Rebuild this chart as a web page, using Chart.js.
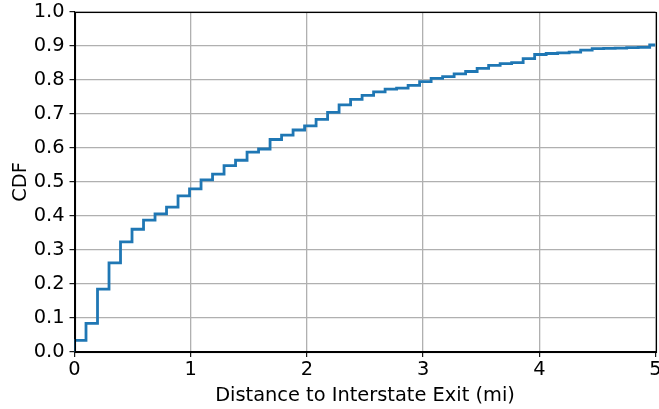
<!DOCTYPE html>
<html>
<head>
<meta charset="utf-8">
<script src="https://cdn.jsdelivr.net/npm/chart.js@4.4.1/dist/chart.umd.min.js"></script>
<style>
  html, body { margin: 0; padding: 0; background: #fff; }
  #wrap { width: 659px; height: 409px; position: relative; }
</style>
</head>
<body>
<div id="wrap"><canvas id="c" width="659" height="409"></canvas></div>
<script>
// Step positions (miles) and CDF values
const stepX = [0, 0.099, 0.198, 0.297, 0.396, 0.495, 0.594, 0.693, 0.792, 0.891,
  0.99, 1.089, 1.188, 1.287, 1.386, 1.485, 1.584, 1.683, 1.782, 1.881,
  1.98, 2.079, 2.178, 2.277, 2.376, 2.475, 2.574, 2.673, 2.772, 2.871,
  2.97, 3.069, 3.168, 3.267, 3.366, 3.465, 3.564, 3.663, 3.762, 3.861,
  3.96, 4.059, 4.158, 4.257, 4.356, 4.455, 4.554, 4.653, 4.752, 4.851,
  4.95, 5.0];
const cdfY = [0.034, 0.084, 0.185, 0.262, 0.324, 0.361, 0.388, 0.406, 0.426, 0.459,
  0.480, 0.506, 0.523, 0.548, 0.564, 0.588, 0.597, 0.625, 0.638, 0.653,
  0.665, 0.684, 0.705, 0.727, 0.743, 0.755, 0.765, 0.773, 0.776, 0.784,
  0.795, 0.805, 0.810, 0.818, 0.825, 0.834, 0.843, 0.848, 0.851, 0.863,
  0.875, 0.878, 0.880, 0.882, 0.888, 0.892, 0.893, 0.894, 0.895, 0.896,
  0.903, 0.903];
const xTicks = [0, 1, 2, 3, 4, 5];
const yTicks = [0.0, 0.1, 0.2, 0.3, 0.4, 0.5, 0.6, 0.7, 0.8, 0.9, 1.0];
const xLabel = 'Distance to Interstate Exit (mi)';
const yLabel = 'CDF';

const points = [{x: 0, y: 0}];
for (let i = 0; i < stepX.length; i++) points.push({x: stepX[i], y: cdfY[i]});

const FONT = 'DejaVu Sans';
const FS = 19.4;
const boxPlugin = {
  id: 'box',
  afterDatasetsDraw(chart) {
    const {ctx, chartArea: a} = chart;
    ctx.save();
    ctx.strokeStyle = '#000';
    ctx.lineWidth = 1.1;
    ctx.strokeRect(Math.round(a.left) + 0.5, Math.round(a.top) + 0.5,
      Math.round(a.right - a.left), Math.round(a.bottom - a.top));
    ctx.restore();
  }
};

new Chart(document.getElementById('c'), {
  type: 'line',
  data: {
    datasets: [{
      data: points,
      stepped: 'before',
      borderColor: '#1f77b4',
      borderWidth: 2.8,
      pointRadius: 0,
      fill: false,
      tension: 0
    }]
  },
  options: {
    responsive: false,
    animation: false,
    devicePixelRatio: 1,
    layout: { padding: { top: 12, right: 3.5, bottom: 0, left: 0 } },
    plugins: { legend: { display: false }, tooltip: { enabled: false } },
    scales: {
      x: {
        type: 'linear', min: 0, max: 5,
        afterBuildTicks(s) { s.ticks = xTicks.map(v => ({value: v})); },
        afterFit(s) { s.height = 57; s.paddingLeft = 0; s.paddingRight = 0; },
        ticks: { color: '#000', font: { family: FONT, size: FS }, padding: 1,
                 maxRotation: 0, callback: v => String(v) },
        grid: { color: '#b0b0b0', lineWidth: 1.3, tickColor: '#000', tickLength: 5, tickWidth: 1.1 },
        border: { display: true, color: '#000', width: 1.1 },
        title: { display: true, text: xLabel, color: '#000',
                 font: { family: FONT, size: FS }, padding: { top: 0, bottom: 1 } }
      },
      y: {
        type: 'linear', min: 0, max: 1,
        afterBuildTicks(s) { s.ticks = yTicks.map(v => ({value: v})); },
        afterFit(s) { s.width = 74.5; s.paddingTop = 0; s.paddingBottom = 0; },
        ticks: { color: '#000', font: { family: FONT, size: FS }, padding: 5,
                 callback: v => Number(v).toFixed(1) },
        grid: { color: '#b0b0b0', lineWidth: 1.3, tickColor: '#000', tickLength: 5, tickWidth: 1.1 },
        border: { display: true, color: '#000', width: 1.1 },
        title: { display: true, text: yLabel, color: '#000',
                 font: { family: FONT, size: FS }, padding: { top: 9, bottom: 0 } }
      }
    }
  },
  plugins: [boxPlugin]
});
</script>
</body>
</html>
